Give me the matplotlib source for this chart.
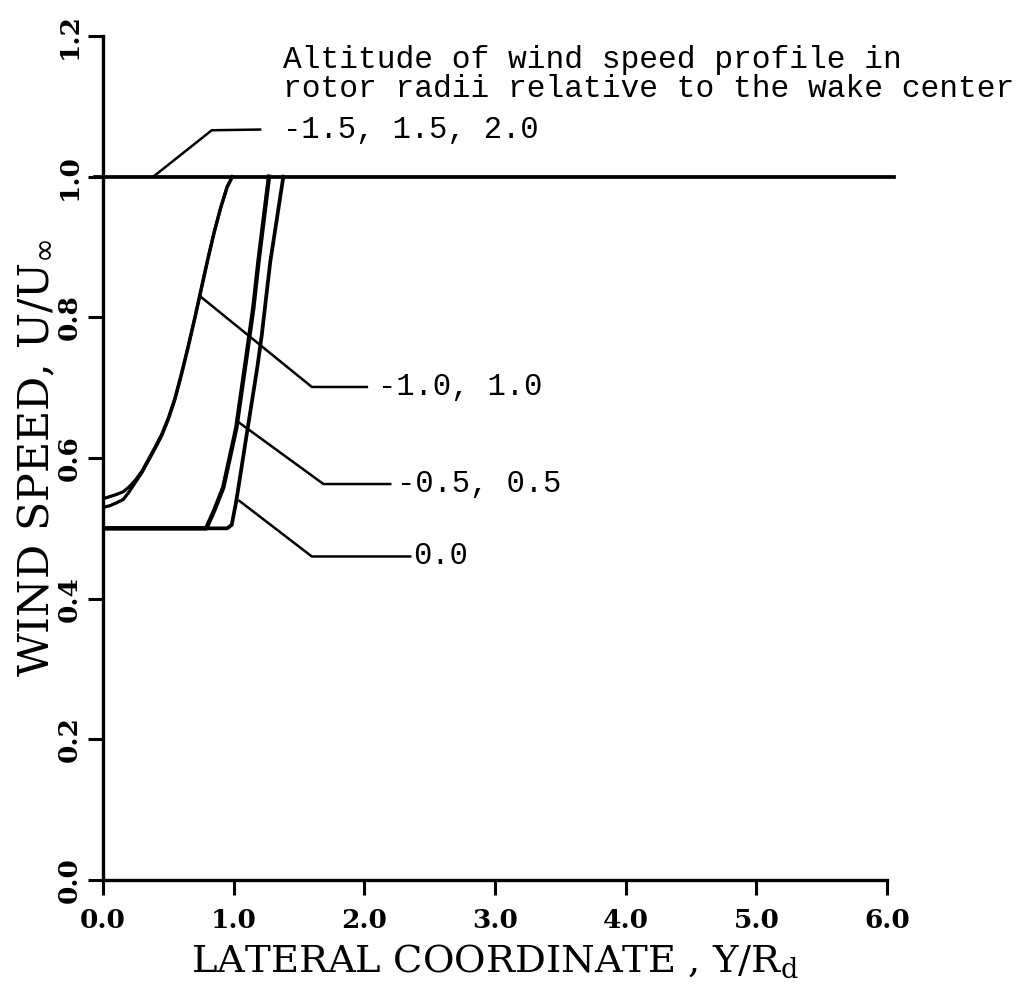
import numpy as np
import matplotlib.pyplot as plt

# lateral wind speed profiles at several altitudes
x_far = [-0.06, 6.05]
u_far = [1.0, 1.0]

x_m10 = [0.0, 0.05, 0.10, 0.155, 0.20, 0.25, 0.30, 0.35, 0.40, 0.45, 0.50, 0.55, 0.60,
         0.65, 0.70, 0.75, 0.80, 0.85, 0.90, 0.95, 0.99]
u_m10 = [0.530, 0.532, 0.536, 0.541, 0.552, 0.566, 0.580, 0.597, 0.614, 0.632, 0.655,
         0.683, 0.718, 0.756, 0.796, 0.838, 0.880, 0.920, 0.955, 0.985, 1.0]
u_p10 = [0.542, 0.545, 0.548, 0.552, 0.559, 0.569, 0.582, 0.599, 0.616, 0.634, 0.657,
         0.685, 0.720, 0.758, 0.798, 0.840, 0.882, 0.921, 0.956, 0.986, 1.0]

x_m05 = [0.0, 0.79, 0.85, 0.92, 1.02, 1.10, 1.15, 1.19, 1.27]
u_m05 = [0.5, 0.5, 0.525, 0.558, 0.643, 0.747, 0.813, 0.88, 1.0]

x_00 = [0.0, 0.95, 0.985, 1.02, 1.10, 1.18, 1.215, 1.28, 1.38]
u_00 = [0.5, 0.5, 0.505, 0.539, 0.634, 0.728, 0.775, 0.879, 1.0]

labels = ['-1.5, 1.5, 2.0', '-1.0, 1.0', '-0.5, 0.5', '0.0']
xticks = [0.0, 1.0, 2.0, 3.0, 4.0, 5.0, 6.0]
yticks = [0.0, 0.2, 0.4, 0.6, 0.8, 1.0, 1.2]

# leader lines from curve to label
lead_x = [[0.385, 0.832, 1.202], [0.743, 1.598, 2.019], [1.044, 1.687, 2.198], [1.044, 1.598, 2.351]]
lead_y = [[1.0, 1.066, 1.067], [0.830, 0.701, 0.701], [0.650, 0.563, 0.563], [0.539, 0.46, 0.46]]
text_x = [1.38, 2.108, 2.249, 2.376]

fig = plt.figure(figsize=(10.21, 9.92), dpi=100)
ax = fig.add_axes([0.1009, 0.1129, 0.7679, 0.8508])

lw = 2.7
ax.plot(x_far, u_far, color='k', lw=lw, clip_on=False)
ax.plot(x_m10, u_m10, color='k', lw=lw - 0.4)
ax.plot(x_m10, u_p10, color='k', lw=lw - 0.4)
ax.plot(x_m05, u_m05, color='k', lw=lw + 0.5)
ax.plot(x_00, u_00, color='k', lw=lw)

for lx, ly, tx, lab in zip(lead_x, lead_y, text_x, labels):
    ax.plot(lx, ly, color='k', lw=1.8)
    ax.text(tx, ly[-1], lab, family='Liberation Mono', fontsize=22, va='center', ha='left')

ax.text(1.38, 1.145, 'Altitude of wind speed profile in\nrotor radii relative to the wake center',
        family='Liberation Mono', fontsize=22.5, va='center', ha='left', linespacing=0.95,
        clip_on=False)

ax.set_xlim(0, 6)
ax.set_ylim(0, 1.2)
ax.spines['top'].set_visible(False)
ax.spines['right'].set_visible(False)
ax.spines['left'].set_linewidth(2.4)
ax.spines['bottom'].set_linewidth(2.4)

ax.set_xticks(xticks)
ax.set_xticklabels(['%.1f' % v for v in xticks])
ax.set_yticks(yticks)
ax.set_yticklabels(['%.1f' % v for v in yticks], rotation=90, va='center')
ax.tick_params(direction='out', length=11, width=2.2, labelsize=19)
ax.tick_params(axis='x', pad=9)
ax.tick_params(axis='y', pad=4)
for t in ax.get_xticklabels() + ax.get_yticklabels():
    t.set_family('DejaVu Serif')
    t.set_fontweight('bold')

ax.set_xlabel(r'LATERAL COORDINATE , Y/R$_\mathregular{d}$', family='DejaVu Serif',
              fontsize=27.7, labelpad=7)
ax.set_ylabel(r'WIND SPEED, U/U$_\infty$', family='DejaVu Serif', fontsize=30.8, labelpad=0)

fig.savefig('out.png', dpi=100)
